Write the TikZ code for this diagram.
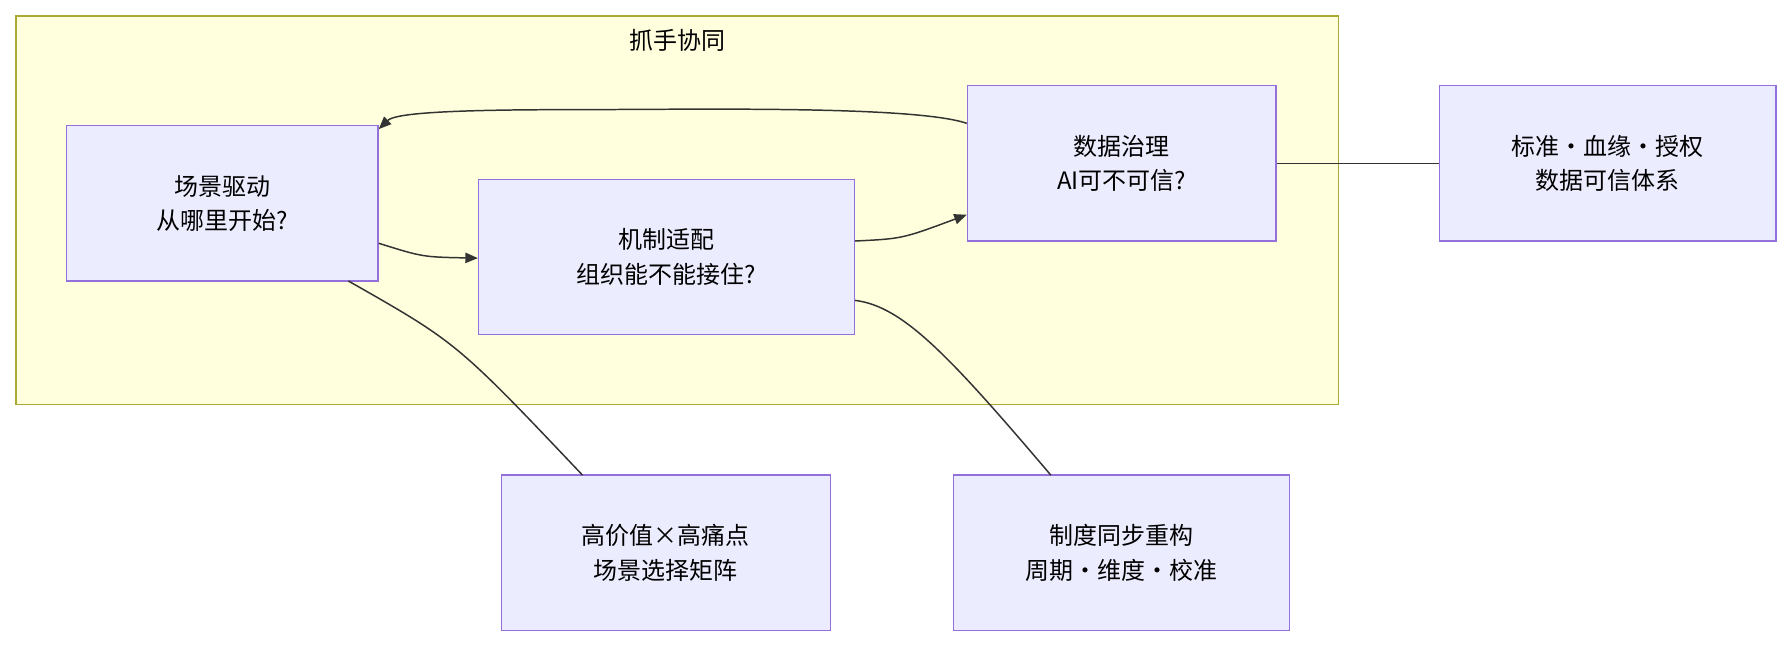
\documentclass[tikz,border=0pt]{standalone}
\usepackage{fontspec}
\setmainfont{Noto Sans CJK SC}
\usetikzlibrary{arrows.meta}
\definecolor{nfill}{HTML}{ECECFF}
\definecolor{nstroke}{HTML}{9370DB}
\definecolor{cfill}{HTML}{FFFFDE}
\definecolor{cstroke}{HTML}{AAAA33}
\definecolor{ln}{HTML}{333333}
\tikzset{
 box/.style={draw=nstroke,fill=nfill,line width=1.2pt,align=center,font=\fontsize{21}{30}\selectfont,inner sep=0pt},
 conn/.style={draw=ln,line width=1.3pt},
 arr/.style={conn,-{Triangle[length=11pt,width=9pt]}}
}
\begin{document}
\begin{tikzpicture}[x=1pt,y=-1pt]
\useasboundingbox (0,0) rectangle (1568,567);
\node[draw=cstroke,fill=cfill,line width=1.2pt,minimum width=1158pt,minimum height=340pt,inner sep=0pt] (grp) at (593,184) {};
\node[font=\fontsize{21}{26}\selectfont] (title) at (593,35) {抓手协同};
\node[box,minimum width=273pt,minimum height=136pt] (A) at (194.5,178) {场景驱动\\从哪里开始?};
\node[box,minimum width=329pt,minimum height=136pt] (B) at (583.5,225) {机制适配\\组织能不能接住?};
\node[box,minimum width=270pt,minimum height=136pt] (C) at (982,143) {数据治理\\AI可不可信?};
\node[box,minimum width=295pt,minimum height=136pt] (D) at (1407.5,143) {标准·血缘·授权\\数据可信体系};
\node[box,minimum width=288pt,minimum height=136pt] (E) at (583,484) {高价值×高痛点\\场景选择矩阵};
\node[box,minimum width=294pt,minimum height=136pt] (F) at (982,484) {制度同步重构\\周期·维度·校准};
\draw[arr] (A.east|-0,213) .. controls (370,225) .. (B.west|-0,226);
\draw[arr] (B.east|-0,211) .. controls (790,209) .. (C.west|-0,188);
\draw[arr] (C.west|-0,108) .. controls (800,92) and (600,96) .. (500,96) .. controls (380,96) and (345,100) .. (A.east|-0,113);
\draw[conn] (C.east|-0,143) -- (D.west|-0,143);
\draw[conn] (305,246) .. controls (400,300) .. (510,416);
\draw[conn] (B.east|-0,263) .. controls (790,268) and (830,310) .. (920,416);
\end{tikzpicture}
\end{document}
